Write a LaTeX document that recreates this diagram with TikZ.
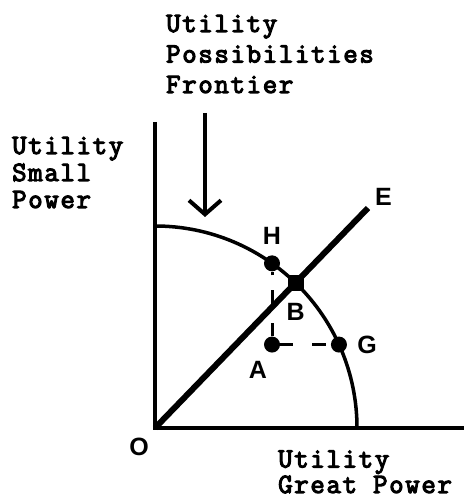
\documentclass[tikz,border=0pt]{standalone}
\usepackage{fontspec}
\usepackage{tikz}
\usetikzlibrary{arrows.meta,positioning}
\newfontfamily\ptfont{Liberation Sans}
\newfontfamily\capfont{Latin Modern Mono}[FakeBold=4, LetterSpace=6]

\begin{document}
\begin{tikzpicture}[x=1pt, y=1pt, >={Straight Barb[length=14pt,width=32pt]},
  axis/.style={line width=4pt},
  dot/.style={circle, fill=black, inner sep=0pt, minimum size=16pt},
  sqdot/.style={rectangle, fill=black, inner sep=0pt, minimum size=16pt},
  ptlabel/.style={font=\ptfont\bfseries\fontsize{25}{25}\selectfont, inner sep=0pt},
  caption/.style={font=\capfont\fontsize{28}{30.5}\selectfont,
    align=left, inner sep=0pt, anchor=base west},
  guide/.style={line width=3pt, dash pattern=on 13pt off 19pt on 14pt off 15pt}]
  \useasboundingbox (0,0) rectangle (466,500);
  % axes
  \coordinate (O) at (155,72);
  \coordinate (ytop) at (155,378);
  \coordinate (xend) at (464,72);
  \draw[axis] (ytop) -- (O) -- (xend);
  % frontier
  \coordinate (F0) at (155,274);
  \draw[line width=3.5pt] (F0) arc[start angle=90, end angle=0, radius=202];
  % ray O-E
  \coordinate (E) at (368,292);
  \draw[line width=6pt] (O) -- (E);
  % points
  \node[dot] (H) at ([shift={(54.6:202)}]O) {};
  \node[sqdot] (B) at ([shift={(45.9:202)}]O) {};
  \node[dot] (G) at ([shift={(24.4:202)}]O) {};
  \node[dot] (A) at (H |- G) {};
  \draw[guide] (A) -- (G);
  \draw[guide] (A) -- (H);
  % labels
  \node[ptlabel, below left=10pt and 6pt of O] (Olab) {O};
  \node[ptlabel, above right=2pt and 7pt of E] (Elab) {E};
  \node[ptlabel, above=10pt of H] (Hlab) {H};
  \node[ptlabel, below=12pt of B] (Blab) {B};
  \node[ptlabel, below=8pt of A, xshift=-14pt] (Alab) {A};
  \node[ptlabel, right=10pt of G] (Glab) {G};
  % captions (base = last line)
  \node[caption] (upf) at (166,407) {Utility\\Possibilities\\Frontier};
  \node[caption, font=\capfont\fontsize{28}{27}\selectfont] (ysmall) at (12,292) {Utility\\Small\\Power};
  \node[caption, font=\capfont\fontsize{28}{25.5}\selectfont] (xgreat) at (278,7) {Utility\\Great Power};
  % arrow to frontier
  \coordinate (arrtop) at (205,387);
  \coordinate (arrtip) at (205,283);
  \draw[line width=4pt, ->] (arrtop) -- (arrtip);
\end{tikzpicture}
\end{document}
